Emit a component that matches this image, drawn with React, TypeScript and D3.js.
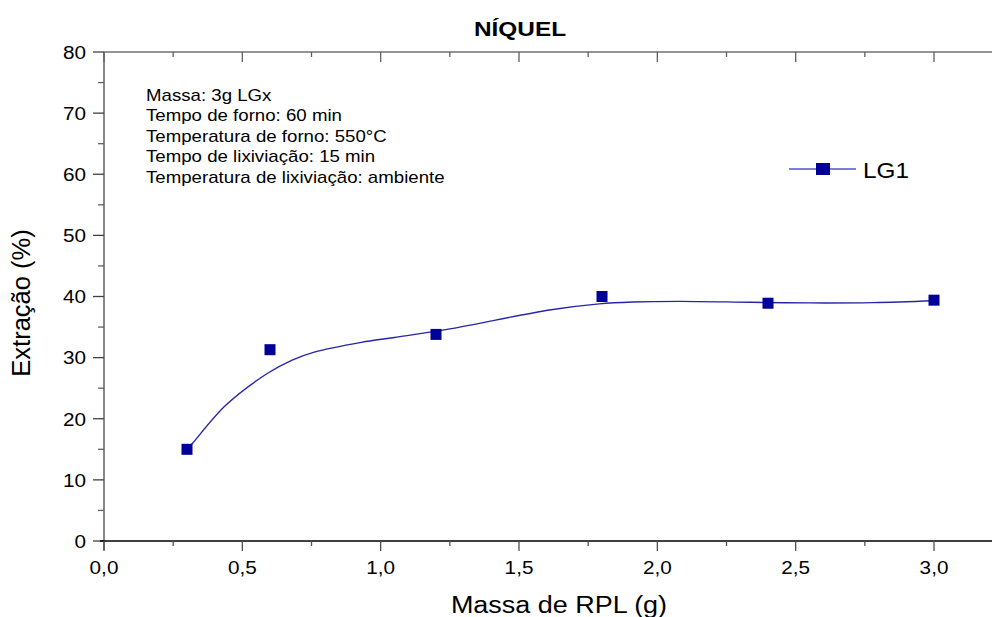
import React from "react";
import * as d3 from "d3";

const massX = [0.3, 0.6, 1.2, 1.8, 2.4, 3.0];
const extracaoY = [15.0, 31.3, 33.8, 40.0, 38.9, 39.4];

const fitX = [0.3, 0.32, 0.44, 0.59, 0.68, 0.76, 0.93, 1.05, 1.25, 1.61, 1.79, 1.91, 2.08, 2.34, 2.55, 2.78, 3.0];
const fitY = [15.0, 16.0, 22.2, 27.4, 29.6, 30.9, 32.5, 33.3, 34.7, 37.8, 38.8, 39.1, 39.2, 39.05, 38.95, 39.0, 39.3];

const xMajor = [0, 0.5, 1.0, 1.5, 2.0, 2.5, 3.0];
const xMinor = [0.25, 0.75, 1.25, 1.75, 2.25, 2.75, 3.25];
const yMajor = [0, 10, 20, 30, 40, 50, 60, 70, 80];
const yMinor = [5, 15, 25, 35, 45, 55, 65, 75];

const notes = [
  "Massa: 3g LGx",
  "Tempo de forno: 60 min",
  "Temperatura de forno: 550°C",
  "Tempo de lixiviação: 15 min",
  "Temperatura de lixiviação: ambiente",
];

const title = "NÍQUEL";
const xTitle = "Massa de RPL (g)";
const yTitle = "Extração (%)";
const seriesName = "LG1";

const FONT = "Liberation Sans, Arial, sans-serif";

function SText({ x, y, sx = 1.1, anchor = "start", size, weight = "normal", children, fill = "#000" }: any) {
  return (
    <text
      transform={`translate(${x},${y}) scale(${sx},1)`}
      textAnchor={anchor}
      fontSize={size}
      fontWeight={weight}
      fontFamily={FONT}
      fill={fill}
    >
      {children}
    </text>
  );
}

export default function App() {
  const W = 992, H = 617;
  const x = d3.scaleLinear().domain([0, 3.25]).range([104, 104 + 3.25 * 276.67]);
  const y = d3.scaleLinear().domain([0, 80]).range([541, 52]);
  const fmt = (v: number) => d3.format(".1f")(v).replace(".", ",");

  const fitPts: [number, number][] = fitX.map((v, i) => [v, fitY[i]]);
  const line = d3
    .line<[number, number]>()
    .x((d) => x(d[0]))
    .y((d) => y(d[1]))
    .curve(d3.curveCatmullRom.alpha(0.5));

  const x0 = x(0), xEnd = 1000, yTop = y(80), yBot = y(0);
  const ms = 11;

  return (
    <div style={{ position: "absolute", left: 0, top: 0 }}>
      <svg width={W} height={H} style={{ display: "block", background: "#fff" }}>
        {/* title */}
        <SText x={520} y={36} size={20} weight="bold" sx={1.22} anchor="middle">{title}</SText>

        {/* top axis */}
        <line x1={x0} x2={xEnd} y1={yTop} y2={yTop} stroke="#707070" strokeWidth={1.5} />
        {xMajor.map((v) => (
          <line key={"tM" + v} x1={x(v)} x2={x(v)} y1={yTop} y2={yTop + 10} stroke="#606060" strokeWidth={1.3} />
        ))}
        {xMinor.map((v) => (
          <line key={"tm" + v} x1={x(v)} x2={x(v)} y1={yTop} y2={yTop + 5} stroke="#606060" strokeWidth={1.3} />
        ))}

        {/* left axis */}
        <line x1={x0} x2={x0} y1={yTop} y2={yBot + 9} stroke="#606060" strokeWidth={1.5} />
        {yMajor.map((v) => (
          <line key={"lM" + v} x1={x0 - 11} x2={x0} y1={y(v)} y2={y(v)} stroke="#404040" strokeWidth={1.3} />
        ))}
        {yMinor.map((v) => (
          <line key={"lm" + v} x1={x0 - 6} x2={x0} y1={y(v)} y2={y(v)} stroke="#606060" strokeWidth={1.3} />
        ))}
        {yMajor.map((v) => (
          <SText key={"ly" + v} x={86} y={y(v) + 6.8} size={18.5} sx={1.12} anchor="end">{String(v)}</SText>
        ))}

        {/* bottom axis */}
        <line x1={x0 - 4} x2={xEnd} y1={yBot} y2={yBot} stroke="#000" strokeWidth={1.6} />
        {xMajor.map((v) => (
          <line key={"bM" + v} x1={x(v)} x2={x(v)} y1={yBot} y2={yBot + 10} stroke="#505050" strokeWidth={1.3} />
        ))}
        {xMinor.map((v) => (
          <line key={"bm" + v} x1={x(v)} x2={x(v)} y1={yBot} y2={yBot + 5} stroke="#505050" strokeWidth={1.3} />
        ))}
        {xMajor.map((v) => (
          <SText key={"bx" + v} x={x(v)} y={573.5} size={18.5} sx={1.12} anchor="middle">{fmt(v)}</SText>
        ))}

        {/* axis titles */}
        <SText x={559} y={613} size={24.5} sx={1.1} anchor="middle">{xTitle}</SText>
        <text
          transform={`translate(30,303) rotate(-90)`}
          textAnchor="middle"
          fontSize={25.5}
          fontFamily={FONT}
          fill="#000"
        >
          {yTitle}
        </text>

        {/* notes */}
        {notes.map((t, i) => (
          <SText key={"n" + i} x={146} y={100.5 + i * 20.6} size={17.2} sx={1.085}>{t}</SText>
        ))}

        {/* fit curve */}
        <path d={line(fitPts) || ""} fill="none" stroke="#2626a8" strokeWidth={1.4} />

        {/* points */}
        {massX.map((v, i) => (
          <rect
            key={"p" + i}
            x={x(v) - ms / 2}
            y={y(extracaoY[i]) - ms / 2}
            width={ms}
            height={ms}
            fill="#000099"
          />
        ))}

        {/* legend */}
        <line x1={789} x2={856} y1={169} y2={169} stroke="#5555cc" strokeWidth={1.6} />
        <rect x={823 - 7} y={169 - 6} width={14} height={12} fill="#000099" />
        <SText x={863} y={178} size={21.5} sx={1.13}>{seriesName}</SText>
      </svg>
    </div>
  );
}
